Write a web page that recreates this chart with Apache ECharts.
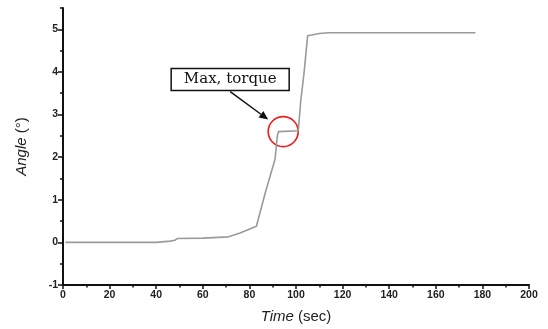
<!DOCTYPE html>
<html>
<head>
<meta charset="utf-8">
<script src="https://cdn.jsdelivr.net/npm/echarts@6/dist/echarts.min.js"></script>
<style>
  html, body { margin: 0; padding: 0; background: #fff; }
  #chart { width: 548px; height: 329px; }
</style>
</head>
<body>
<div id="chart"></div>
<script>
// time (sec) and angle (deg)
var timeSec = [1, 40, 46, 48, 49, 60, 71, 76, 83, 87, 91, 92, 92.5, 101, 102, 103.5, 105, 110, 114, 177];
var angleDeg = [0, 0, 0.03, 0.05, 0.09, 0.1, 0.13, 0.22, 0.38, 1.2, 1.95, 2.5, 2.6, 2.62, 3.3, 4.0, 4.85, 4.9, 4.92, 4.92];

var xMajor = [0, 20, 40, 60, 80, 100, 120, 140, 160, 180, 200];
var xMinor = [10, 30, 50, 70, 90, 110, 130, 150, 170, 190];
var yMajor = [-1, 0, 1, 2, 3, 4, 5];
var yMinor = [-0.5, 0.5, 1.5, 2.5, 3.5, 4.5, 5.5];

// where the max torque circle sits (data coords)
var maxTorque = [94.5, 2.6];
var noteText = 'Max, torque';

var points = timeSec.map(function(t, i){ return [t, angleDeg[i]]; });

var myChart = echarts.init(document.getElementById('chart'));

var axisFont = { fontFamily: 'Arial, Liberation Sans, sans-serif', fontWeight: 'bold', fontSize: 10.5, color: '#222' };

var option = {
	animation: false,
	grid: { left: 63, right: 19, top: 8, bottom: 43 },
	xAxis: [{
		type: 'value', min: 0, max: 200, interval: 20,
		name: '{i|Time} (sec)', nameLocation: 'middle', nameGap: 24,
		nameTextStyle: { fontFamily: 'Arial, Liberation Sans, sans-serif', fontSize: 15, color: '#222',
			rich: { i: { fontStyle: 'italic', fontSize: 15, fontFamily: 'Arial, Liberation Sans, sans-serif', color: '#222' } } },
		axisLine: { onZero: false, lineStyle: { color: '#111', width: 2 } },
		axisTick: { length: 4, lineStyle: { color: '#111', width: 1.5 }, customValues: xMajor },
		axisLabel: Object.assign({ margin: 5, customValues: xMajor }, axisFont),
		splitLine: { show: false }
	}, {
		type: 'value', min: 0, max: 200, position: 'bottom', offset: 0,
		axisLine: { show: false, onZero: false },
		axisTick: { length: 2.5, lineStyle: { color: '#111', width: 1.5 }, customValues: xMinor },
		axisLabel: { show: false },
		splitLine: { show: false }
	}],
	yAxis: [{
		type: 'value', min: -1, max: 5.5,
		name: '{i|Angle} (°)', nameLocation: 'middle', nameGap: 34,
		nameTextStyle: { fontFamily: 'Arial, Liberation Sans, sans-serif', fontSize: 15, color: '#222',
			rich: { i: { fontStyle: 'italic', fontSize: 15, fontFamily: 'Arial, Liberation Sans, sans-serif', color: '#222' } } },
		axisLine: { show: true, onZero: false, lineStyle: { color: '#111', width: 2 } },
		axisTick: { show: true, length: 5, lineStyle: { color: '#111', width: 1.5 }, customValues: yMajor },
		axisLabel: Object.assign({ margin: 5, customValues: yMajor }, axisFont),
		splitLine: { show: false }
	}, {
		type: 'value', min: -1, max: 5.5, position: 'left', offset: 0,
		axisLine: { show: false, onZero: false },
		axisTick: { show: true, length: 3, lineStyle: { color: '#111', width: 1.5 }, customValues: yMinor },
		axisLabel: { show: false },
		splitLine: { show: false }
	}],
	series: [{
		type: 'line',
		data: points,
		showSymbol: false,
		lineStyle: { color: '#9a9a9a', width: 1.6 }
	}]
};
myChart.setOption(option);

// note box, arrow and circle, placed from the max torque point
var c = myChart.convertToPixel({ xAxisIndex: 0, yAxisIndex: 0 }, maxTorque);
var tip = [c[0] - 15, c[1] - 12];
var tail = [c[0] - 53, c[1] - 40];
var dx = tip[0] - tail[0], dy = tip[1] - tail[1];
var len = Math.sqrt(dx * dx + dy * dy);
var ux = dx / len, uy = dy / len;
var headL = 9, headW = 4;
var base = [tip[0] - ux * headL, tip[1] - uy * headL];

myChart.setOption({
	graphic: [{
		type: 'circle',
		shape: { cx: c[0], cy: c[1], r: 15 },
		style: { fill: 'none', stroke: '#ee1c1c', lineWidth: 1.6 }
	}, {
		type: 'line',
		shape: { x1: tail[0], y1: tail[1], x2: base[0], y2: base[1] },
		style: { stroke: '#111', lineWidth: 1.5 }
	}, {
		type: 'polygon',
		shape: { points: [tip, [base[0] - uy * headW, base[1] + ux * headW], [base[0] + uy * headW, base[1] - ux * headW]] },
		style: { fill: '#111' }
	}, {
		type: 'rect',
		shape: { x: c[0] - 112, y: c[1] - 63, width: 118, height: 22 },
		style: { fill: '#fff', stroke: '#111', lineWidth: 1.5 }
	}, {
		type: 'text',
		x: c[0] - 53, y: c[1] - 52,
		style: { text: noteText, align: 'center', verticalAlign: 'middle',
			font: '15px "DejaVu Serif", "Liberation Serif", serif', fill: '#111' }
	}]
});

window.addEventListener('resize', function(){ myChart.resize(); });
</script>
</body>
</html>
